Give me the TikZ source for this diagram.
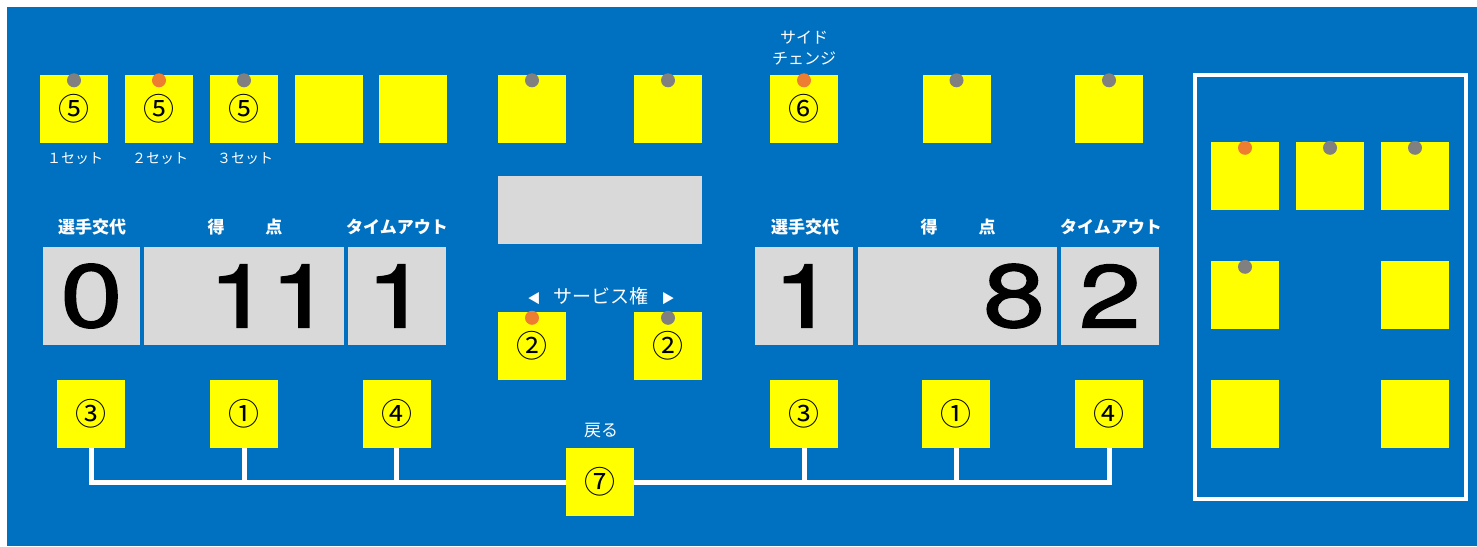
\documentclass[tikz,border=0pt]{standalone}
\usepackage{fontspec}
\usepackage{graphicx}
\setmainfont{Noto Sans CJK JP}
\newfontfamily\digitfont[FakeBold=1.5]{TeX Gyre Heros}
\newcommand\wide[1]{\scalebox{1.25}[1]{#1}}
\definecolor{board}{HTML}{0070C0}
\definecolor{keyyellow}{HTML}{FFFF00}
\definecolor{panelgray}{HTML}{D9D9D9}
\definecolor{pingray}{HTML}{808080}
\definecolor{pinorange}{HTML}{ED7D31}
\begin{document}
\begin{tikzpicture}[x=1pt,y=-1pt,
    key node/.style={fill=keyyellow,minimum width=68pt,minimum height=68pt,inner sep=0pt,
                     font=\fontsize{31}{33}\selectfont},
    panel node/.style={fill=panelgray,minimum height=98pt,inner sep=0pt,
                       font=\digitfont\fontsize{89}{96}\selectfont},
    head node/.style={text=white,inner sep=0pt,font=\bfseries\fontsize{17}{20}\selectfont},
    tag node/.style={text=white,inner sep=0pt,align=center,font=\fontsize{16}{21}\selectfont},
    link/.style={draw=white,line width=5pt}]

  \useasboundingbox (0,0) rectangle (1477,546);
  \fill[white] (0,0) rectangle (1477,546);
  \fill[board] (7,7) rectangle (1477,546);

  % top row
  \node[key node] (set1) at (74,108.5) {⑤};
  \node[key node] (set2) at (159,108.5) {⑤};
  \node[key node] (set3) at (244,108.5) {⑤};
  \node[key node] (set4) at (328.5,108.5) {};
  \node[key node] (set5) at (413,108.5) {};
  \node[key node] (top6) at (532,108.5) {};
  \node[key node] (top7) at (668,108.5) {};
  \node[key node] (side) at (804,108.5) {⑥};
  \node[key node] (top9) at (956.5,108.5) {};
  \node[key node] (top10) at (1109,108.5) {};

  \node[tag node,font=\fontsize{14}{16}\selectfont] at (75,159) {１セット};
  \node[tag node,font=\fontsize{14}{16}\selectfont] at (160,159) {２セット};
  \node[tag node,font=\fontsize{14}{16}\selectfont] at (245,159) {３セット};
  \node[tag node] at (804,48.5) {サイド\\チェンジ};

  % display and serve
  \node[fill=panelgray,minimum width=204pt,minimum height=68pt] (disp) at (600,210) {};
  \node[tag node,font=\fontsize{19}{21}\selectfont] (serve) at (601,296)
    {{\fontsize{13}{13}\selectfont ◀}\hspace{13pt}サービス権\hspace{13pt}{\fontsize{13}{13}\selectfont ▶}};
  \node[key node] (servel) at (532,346) {②};
  \node[key node] (server) at (668,346) {②};

  % left team
  \node[head node] at (92,227) {選手交代};
  \node[head node] at (245,227) {得\hspace{41pt}点};
  \node[head node] at (397,227) {タイムアウト};
  \node[panel node,minimum width=97pt] (lsubp) at (91.5,296) {\wide{0}};
  \node[panel node,inner xsep=12pt,text width=176pt,align=right] (lptp) at (244,296) {\wide{11}};
  \node[panel node,minimum width=98pt] (ltop) at (397,296) {\wide{1}};

  % right team
  \node[head node] at (805,227) {選手交代};
  \node[head node] at (958,227) {得\hspace{41pt}点};
  \node[head node] at (1111,227) {タイムアウト};
  \node[panel node,minimum width=98pt] (rsubp) at (804,296) {\wide{1}};
  \node[panel node,inner xsep=12pt,text width=175pt,align=right] (rptp) at (957.5,296) {\wide{8}};
  \node[panel node,minimum width=98pt] (rtop) at (1110,296) {\wide{2}};

  % lower keys
  \node[key node] (lsub) at (91,414) {③};
  \node[key node] (lpt) at (244,414) {①};
  \node[key node] (lto) at (396.5,414) {④};
  \node[key node] (rsub) at (804,414) {③};
  \node[key node] (rpt) at (956,414) {①};
  \node[key node] (rto) at (1109,414) {④};
  \node[key node] (back) at (600,482) {⑦};
  \node[tag node,font=\fontsize{17}{20}\selectfont] at (601,431) {戻る};

  \draw[link] (lsub.south) |- (back.west)
              (lpt.south) |- (back.west)
              (lto.south) |- (back.west)
              (rsub.south) |- (back.east)
              (rpt.south) |- (back.east)
              (rto.south) |- (back.east);

  % right frame
  \draw[white,line width=4pt] (1195,75) rectangle (1466,499);
  \foreach \c/\x in {a/1245,b/1330,c/1415}
    \node[key node] (g1\c) at (\x,176) {};
  \node[key node] (g2a) at (1245,295) {};
  \node[key node] (g2c) at (1415,295) {};
  \node[key node] (g3a) at (1245,414) {};
  \node[key node] (g3c) at (1415,414) {};

  % pins
  \foreach \b in {set1,set3,top6,top7,top9,top10,server,g1b,g1c,g2a}
    \fill[pingray] ([yshift=-6pt]\b.north) circle (7);
  \foreach \b in {set2,side,servel,g1a}
    \fill[pinorange] ([yshift=-6pt]\b.north) circle (7);
\end{tikzpicture}
\end{document}
